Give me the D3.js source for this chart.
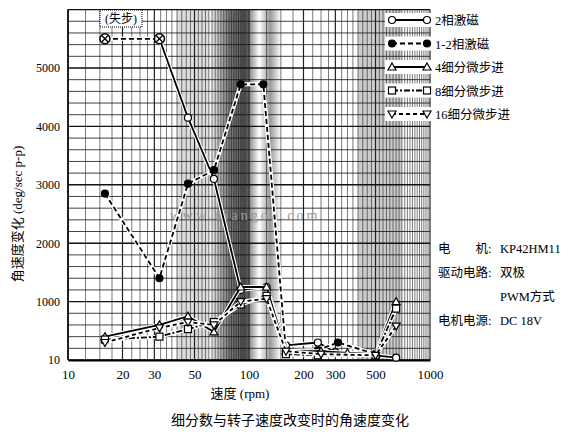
<!DOCTYPE html><html><head><meta charset="utf-8"><script src="https://cdn.jsdelivr.net/npm/d3@7"></script>
<style>body{margin:0;background:#fff}text{font-family:"Liberation Serif","Noto Sans CJK SC",serif}</style></head><body><svg id="c" width="580" height="439"></svg>
<script>
const xTicks=[10,20,30,50,100,200,300,500,1000];
const yTicks=[0,1000,2000,3000,4000,5000];
const yTickLabels=["10","1000","2000","3000","4000","5000"];
const lostX=[16,32], lostY=[5500,5500];
const s2X=[32,46,64,90,125,160,240,300,500,650];
const s2Y=[5500,4150,3100,1200,1250,250,300,130,80,40];
const s12X=[16,32,46,64,90,120,160,240,310,500];
const s12Y=[2850,1400,3020,3250,4720,4720,150,170,300,100];
const s4X=[16,32,46,64,90,125,160,250,350,500,650];
const s4Y=[400,600,750,480,1250,1250,150,150,120,100,1000];
const s8X=[16,32,46,64,90,125,160,240,500,650];
const s8Y=[350,400,530,650,950,1100,100,80,80,880];
const s16X=[16,32,46,64,90,125,160,250,500,650];
const s16Y=[300,550,650,600,1000,1050,150,100,80,580];
const names=["2相激磁","1-2相激磁","4细分微步进","8细分微步进","16细分微步进"];
const svg=d3.select("#c");
const x=d3.scaleLog().domain([10,1000]).range([68,430]);
const y=d3.scaleLinear().domain([0,5000]).range([360,68]);
const yTop=y(6000);
const defs=svg.append("defs");
const g=defs.append("linearGradient").attr("id","band");
[[0,"#fff"],[0.3,"#777"],[0.5,"#555"],[0.62,"#bbb"],[0.7,"#fff"],[0.85,"#999"],[1,"#fff"]].forEach(d=>g.append("stop").attr("offset",d[0]).attr("stop-color",d[1]));
svg.append("rect").attr("x",x(60)).attr("y",yTop).attr("width",x(150)-x(60)).attr("height",360-yTop).attr("fill","url(#band)");
svg.append("rect").attr("x",x(40)).attr("y",yTop).attr("width",x(60)-x(40)).attr("height",360-yTop).attr("fill","#ddd");
svg.append("rect").attr("x",x(400)).attr("y",yTop).attr("width",x(700)-x(400)).attr("height",360-yTop).attr("fill","#ccc");
const vg=[];for(let d=10;d<1000;d*=10)for(let k=1;k<10;k+=0.25)vg.push(d*k);vg.push(1000);
svg.append("g").selectAll("line").data(vg).join("line").attr("x1",d=>x(d)).attr("x2",d=>x(d)).attr("y1",yTop).attr("y2",360).attr("stroke","#222").attr("stroke-width",d=>xTicks.includes(d)?1.2:0.6);
const hg=d3.range(0,6001,200);
svg.append("g").selectAll("line").data(hg).join("line").attr("x1",68).attr("x2",430).attr("y1",d=>y(d)).attr("y2",d=>y(d)).attr("stroke","#111").attr("stroke-width",d=>d%1000==0?1.4:0.8);
svg.append("g").attr("transform","translate(0,360)").call(d3.axisBottom(x).tickValues(xTicks).tickFormat(d3.format("d")).tickSize(0)).call(a=>{a.select(".domain").attr("stroke-width",2);a.selectAll("text").attr("font-size",13).attr("dy","1.2em").attr("fill","#000")});
svg.append("g").attr("transform","translate(68,0)").call(d3.axisLeft(y).tickValues(yTicks).tickFormat((d,i)=>yTickLabels[i]).tickSize(0).tickPadding(8)).call(a=>{a.select(".domain").remove();a.selectAll("text").attr("font-size",12).attr("fill","#000")});
svg.append("line").attr("x1",68).attr("x2",68).attr("y1",yTop).attr("y2",360).attr("stroke","#000").attr("stroke-width",1.5);
svg.append("text").attr("x",245).attr("y",220).attr("text-anchor","middle").attr("font-size",14).attr("fill","#999").attr("letter-spacing",3).text("www.diangon.com");
const line=d3.line().x(d=>x(d[0])).y(d=>y(d[1]));
const zip=(a,b)=>a.map((v,i)=>[v,b[i]]);
const series=[
 {d:zip(s2X,s2Y),dash:null,m:"circle",fill:"#fff"},
 {d:zip(s12X,s12Y),dash:"5,3",m:"circle",fill:"#000"},
 {d:zip(s4X,s4Y),dash:null,m:"tri",fill:"#fff"},
 {d:zip(s8X,s8Y),dash:"6,2,2,2",m:"square",fill:"#fff"},
 {d:zip(s16X,s16Y),dash:"4,3",m:"itri",fill:"#fff"}];
function marker(gs,m,fill,cx,cy){
 if(m=="circle")gs.append("circle").attr("cx",cx).attr("cy",cy).attr("r",3.5).attr("fill",fill).attr("stroke","#000").attr("stroke-width",1.2);
 else if(m=="square")gs.append("rect").attr("x",cx-3.5).attr("y",cy-3.5).attr("width",7).attr("height",7).attr("fill",fill).attr("stroke","#000").attr("stroke-width",1.2);
 else{const s=m=="tri"?1:-1;gs.append("path").attr("d",`M${cx},${cy-4*s}L${cx+4},${cy+3*s}L${cx-4},${cy+3*s}Z`).attr("fill",fill).attr("stroke","#000").attr("stroke-width",1.2);}
}
const sg=svg.append("g");
series.forEach(s=>{
 sg.append("path").attr("d",line(s.d)).attr("fill","none").attr("stroke","#fff").attr("stroke-width",4);
 sg.append("path").attr("d",line(s.d)).attr("fill","none").attr("stroke","#000").attr("stroke-width",1.8).attr("stroke-dasharray",s.dash);
 s.d.forEach(p=>{if(!(p[1]==5500))marker(sg,s.m,s.fill,x(p[0]),y(p[1]));});
});
const lost=zip(lostX,lostY);
sg.append("path").attr("d",line(lost)).attr("stroke","#fff").attr("stroke-width",4).attr("fill","none");
sg.append("path").attr("d",line(lost)).attr("stroke","#000").attr("stroke-width",1.8).attr("stroke-dasharray","5,3").attr("fill","none");
lost.forEach(p=>{const cx=x(p[0]),cy=y(p[1]);sg.append("circle").attr("cx",cx).attr("cy",cy).attr("r",5).attr("fill","#fff").attr("stroke","#000").attr("stroke-width",1.5);
 sg.append("path").attr("d",`M${cx-3},${cy-3}L${cx+3},${cy+3}M${cx+3},${cy-3}L${cx-3},${cy+3}`).attr("stroke","#000").attr("stroke-width",1.3);});
svg.append("rect").attr("x",100).attr("y",10).attr("width",42).attr("height",17).attr("fill","#fff").attr("stroke","#000").attr("stroke-dasharray","1,1");
svg.append("text").attr("x",121).attr("y",23).attr("text-anchor","middle").attr("font-size",12).text("(失步)");
names.forEach((n,i)=>{const ly=20+i*23.5,s=series[i];
 svg.append("rect").attr("x",385).attr("y",ly-7).attr("width",50).attr("height",14).attr("fill","#fff");
 svg.append("line").attr("x1",392).attr("x2",427).attr("y1",ly).attr("y2",ly).attr("stroke","#000").attr("stroke-width",1.8).attr("stroke-dasharray",s.dash);
 marker(svg,s.m,s.fill,392,ly);marker(svg,s.m,s.fill,427,ly);
 svg.append("text").attr("x",435).attr("y",ly+5).attr("font-size",12.5).text(n);});
const notes=[["电　　机:","KP42HM11",253],["驱动电路:","双极",277],["","PWM方式",301],["电机电源:","DC 18V",325]];
notes.forEach(n=>{svg.append("text").attr("x",438).attr("y",n[2]).attr("font-size",12.5).text(n[0]);svg.append("text").attr("x",500).attr("y",n[2]).attr("font-size",12.5).text(n[1]);});
svg.append("text").attr("transform","translate(22,214) rotate(-90)").attr("text-anchor","middle").attr("font-size",13).text("角速度变化 (deg/sec p-p)");
svg.append("text").attr("x",240).attr("y",398).attr("text-anchor","middle").attr("font-size",13).text("速度 (rpm)");
svg.append("text").attr("x",290).attr("y",425).attr("text-anchor","middle").attr("font-size",14).text("细分数与转子速度改变时的角速度变化");
</script></body></html>
